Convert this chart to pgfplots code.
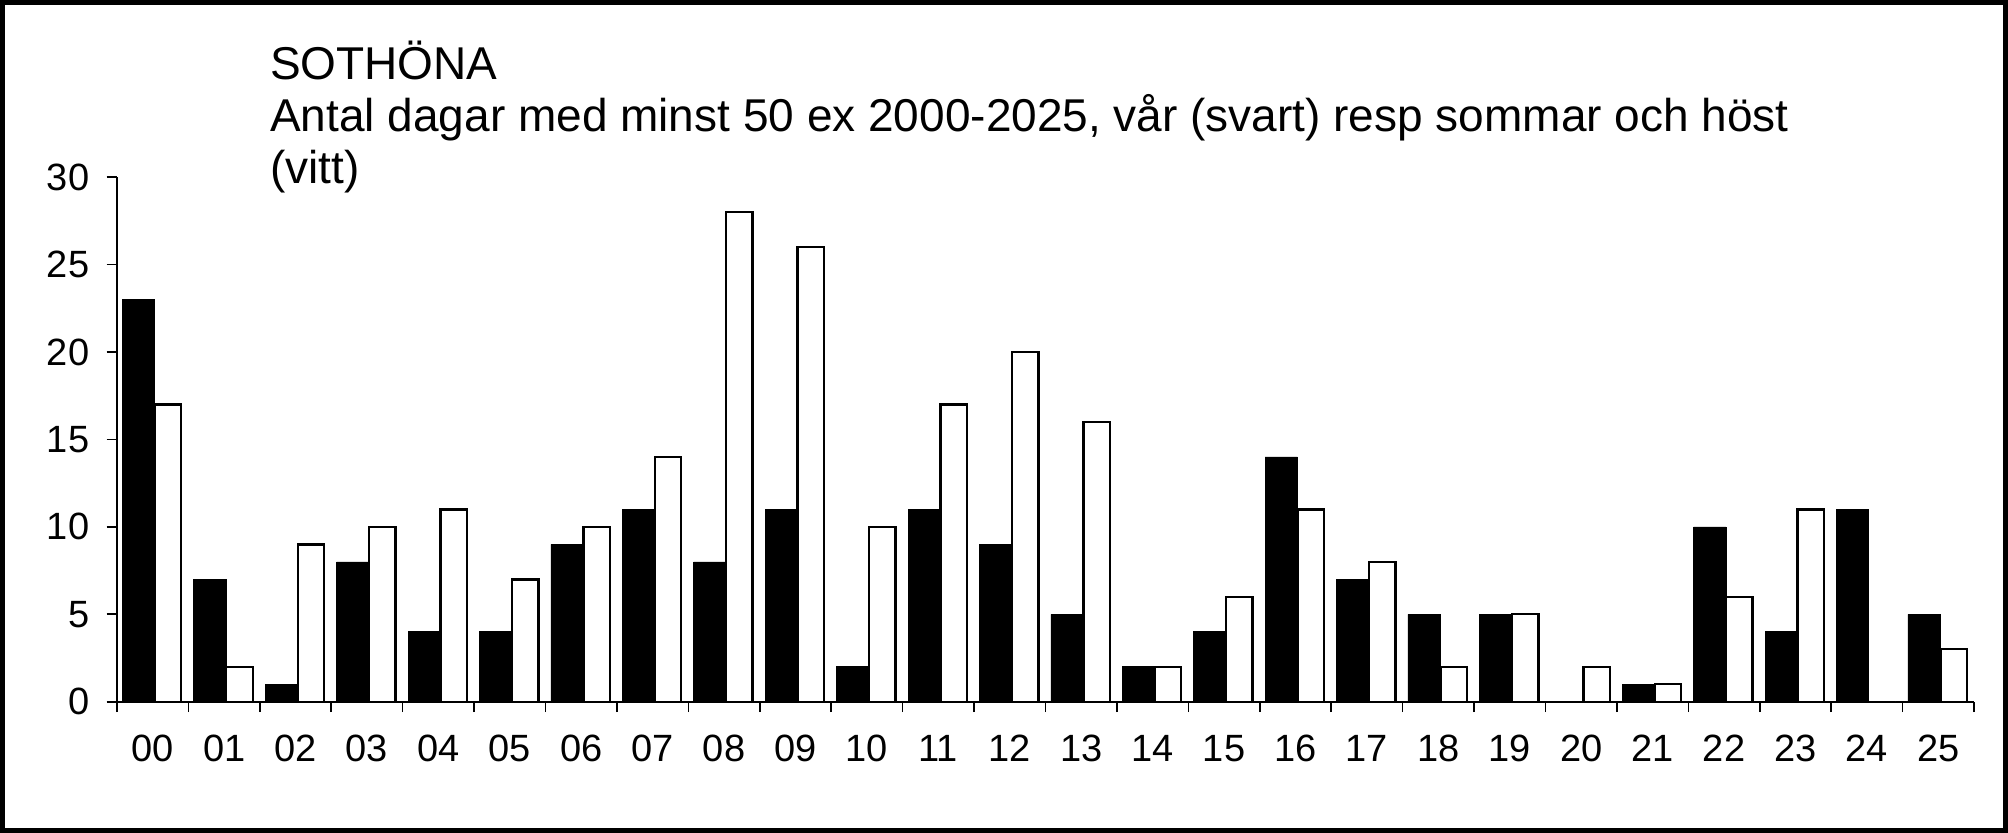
\documentclass[border=0pt]{standalone}
\usepackage{fontspec}
\setmainfont{Liberation Sans}
\usepackage{pgfplots}
\pgfplotsset{compat=1.18}
\begin{document}
\begin{tikzpicture}
\useasboundingbox (-58.5bp,-65.65bp) rectangle (945.5bp,350.85bp);
\draw[line width=2.6bp] (-57.2bp,-64.35bp) rectangle (944.2bp,349.55bp);
\begin{axis}[
  at={(0,0)}, anchor=south west,
  scale only axis,
  width=928.5bp, height=262.2bp,
  xmin=-0.5, xmax=25.5,
  ymin=0, ymax=30,
  axis x line*=bottom, axis y line*=left,
  axis line style={line width=0.8bp},
  ytick={0,5,...,30},
  xtick={0,...,25},
  xticklabels={00,01,02,03,04,05,06,07,08,09,10,11,12,13,14,15,16,17,18,19,20,21,22,23,24,25},
  minor xtick={-0.5,0.5,...,25.5},
  tick align=outside,
  major x tick style={draw=none},
  major tick length=5.2bp,
  minor tick length=5.2bp,
  every tick/.style={black, line width=0.8bp},
  tick style={black, line width=0.8bp},
  /pgf/number format/assume math mode=true,
  ticklabel style={font=\fontsize{19bp}{22bp}\selectfont},
  yticklabel style={xshift=-5.2bp},
  xticklabel style={yshift=-7.9bp},
  ybar, 
  clip=false,
]
\addplot[ybar, bar width=0.45, bar shift=-0.2, fill=black, draw=black, line width=0.3bp] coordinates {
(0,23) (1,7) (2,1) (3,8) (4,4) (5,4) (6,9) (7,11) (8,8) (9,11) (10,2) (11,11) (12,9)
(13,5) (14,2) (15,4) (16,14) (17,7) (18,5) (19,5) (20,0) (21,1) (22,10) (23,4) (24,11) (25,5)};
\addplot[ybar, bar width=0.37, bar shift=0.215, fill=white, draw=black, line width=1.2bp] coordinates {
(0,17) (1,2) (2,9) (3,10) (4,11) (5,7) (6,10) (7,14) (8,28) (9,26) (10,10) (11,17) (12,20)
(13,16) (14,2) (15,6) (16,11) (17,8) (18,2) (19,5) (20,2) (21,1) (22,6) (23,11) (24,0) (25,3)};
\end{axis}
\begin{scope}[every node/.style={anchor=base west, inner sep=0pt, font=\fontsize{23bp}{26bp}\selectfont}]
\node at (76.4bp,311.2bp) {SOTHÖNA};
\node at (76.4bp,285bp) {Antal dagar med minst 50 ex 2000-2025, vår (svart) resp sommar och höst};
\node at (76.4bp,258.85bp) {(vitt)};
\end{scope}
\end{tikzpicture}
\end{document}
